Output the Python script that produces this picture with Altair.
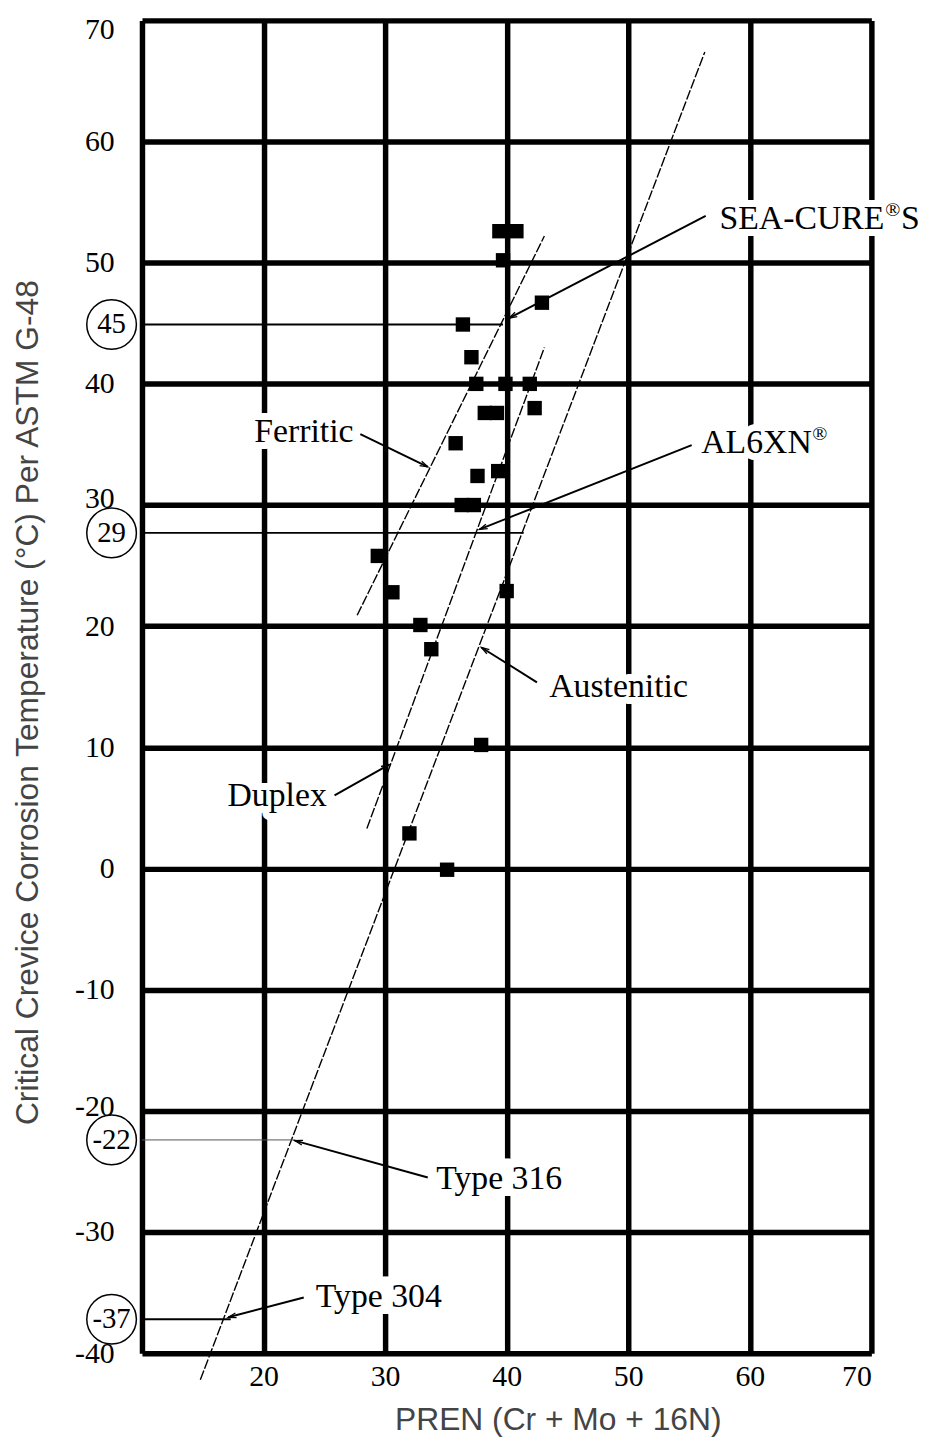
import math
import altair as alt
import pandas as pd

# ---- measured data points (PREN, CCCT) ----
pren = [39.4, 40.8, 39.7, 42.9, 36.4, 37.1, 37.5, 39.9, 41.9, 38.2, 39.2, 42.3,
        35.8, 37.6, 39.3, 36.3, 37.3, 29.4, 30.6, 40.0, 32.9, 33.8, 37.9, 32.0, 35.1]
ccct = [52.6, 52.6, 50.2, 46.7, 44.9, 42.2, 40.0, 40.0, 40.0, 37.6, 37.6, 38.0,
        35.1, 32.4, 32.8, 30.0, 30.0, 25.8, 22.8, 22.9, 20.1, 18.1, 10.2, 2.9, -0.1]

# ---- trend lines (end points) ----
line_name = ["Ferritic", "Ferritic", "Duplex", "Duplex", "Austenitic", "Austenitic"]
line_x = [27.7, 43.1, 28.5, 43.1, 14.8, 56.3]
line_y = [20.9, 52.2, 3.3, 43.0, -42.2, 67.4]

# ---- reference levels (circled values) ----
ref_label = ["45", "29", "-22", "-37"]
ref_y = [44.9, 27.7, -22.4, -37.2]
ref_x_start = [10, 10, 10, 10]
ref_x_end = [39.7, 41.4, 22.6, 17.3]
ref_width = [1.8, 1.8, 1.0, 1.8]
ref_color = ["black", "black", "#555555", "black"]
circle_x = [7.5, 7.5, 7.5, 7.5]

# ---- annotations and leader lines ----
ann_text = ["Ferritic", "Duplex", "Austenitic", "SEA-CURE", "AL6XN", "Type 316", "Type 304"]
ann_x = [27.4, 25.2, 43.5, 57.5, 56.0, 34.2, 24.3]
ann_y = [36.0, 6.0, 15.0, 53.6, 35.1, -25.6, -35.4]
ann_align = ["right", "right", "left", "left", "left", "left", "left"]
lead_x1 = [27.96, 25.84, 42.49, 56.37, 55.22, 33.51, 23.31]
lead_y1 = [35.85, 6.04, 15.37, 53.87, 34.95, -25.5, -35.4]
lead_x2 = [33.51, 30.33, 37.92, 40.2, 37.76, 22.57, 17.1]
lead_y2 = [33.15, 8.57, 18.24, 45.43, 27.99, -22.46, -37.04]

# ---- axis ticks ----
x_ticks = [10, 20, 30, 40, 50, 60, 70]
y_ticks = [-40, -30, -20, -10, 0, 10, 20, 30, 40, 50, 60, 70]

SERIF = "Liberation Serif"
SANS = "Liberation Sans"
TITLE_COLOR = "#444444"
FS = 34
W, H = 735, 1343
X_DOM, Y_DOM = [10, 70], [-40, 70]

xs = alt.Scale(domain=X_DOM, nice=False, zero=False)
ys = alt.Scale(domain=Y_DOM, nice=False, zero=False)

pts = pd.DataFrame({"x": pren, "y": ccct})
lines = pd.DataFrame({"x": line_x, "y": line_y, "name": line_name})
refs = pd.DataFrame({"x": ref_x_start, "x2": ref_x_end, "y": ref_y, "label": ref_label,
                     "cx": circle_x, "w": ref_width, "c": ref_color})
anns = pd.DataFrame({"x": ann_x, "y": ann_y, "text": ann_text, "align": ann_align})
leads = pd.DataFrame({"x": lead_x1, "y": lead_y1, "x2": lead_x2, "y2": lead_y2})

# arrowhead orientation in screen space (style only)
kx = W / (X_DOM[1] - X_DOM[0])
ky = H / (Y_DOM[1] - Y_DOM[0])
leads["ang"] = [
    math.degrees(math.atan2((b - a) * kx, (d - c) * ky)) % 360
    for a, b, c, d in zip(lead_x1, lead_x2, lead_y1, lead_y2)
]

x_axis = alt.Axis(
    values=x_ticks, title="PREN (Cr + Mo + 16N)",
    labelExpr="datum.value == 10 ? '' : '' + datum.value",
    grid=True, gridColor="black", gridWidth=5.5, gridOpacity=1,
    domain=False, ticks=False, labelPadding=9,
    labelFont=SERIF, labelFontSize=30, labelColor="black",
    titleFont=SANS, titleFontSize=32, titleFontWeight="normal", titleColor=TITLE_COLOR,
    titleX=419, titleY=67, titleAnchor="start", titleAlign="center", titleBaseline="middle",
)
y_axis = alt.Axis(
    values=y_ticks, title="Critical Crevice Corrosion Temperature (°C) Per ASTM G-48",
    labelExpr="'' + datum.value",
    grid=True, gridColor="black", gridWidth=5.5, gridOpacity=1,
    domain=False, ticks=False, labelPadding=28,
    labelFont=SERIF, labelFontSize=30, labelColor="black", labelBaseline="middle",
    labelOffset={"condition": [{"test": "datum.value == 70", "value": 9},
                               {"test": "datum.value == 30", "value": -7},
                               {"test": "datum.value == -20", "value": -4}],
                 "value": 0},
    titleFont=SANS, titleFontSize=32, titleFontWeight="normal", titleColor=TITLE_COLOR,
    titleX=-115, titleY=687, titleAngle=270, titleAlign="center", titleBaseline="middle",
)

points = alt.Chart(pts).mark_square(size=210, color="black", opacity=1).encode(
    x=alt.X("x:Q", scale=xs, axis=x_axis),
    y=alt.Y("y:Q", scale=ys, axis=y_axis),
)

trend = alt.Chart(lines).mark_line(color="black", strokeWidth=1.4, strokeDash=[10, 2]).encode(
    x=alt.X("x:Q", scale=xs), y=alt.Y("y:Q", scale=ys), detail="name:N"
)

ref_rules = alt.Chart(refs).mark_rule().encode(
    x=alt.X("x:Q", scale=xs), x2="x2:Q", y=alt.Y("y:Q", scale=ys),
    strokeWidth=alt.StrokeWidth("w:Q", scale=None),
    color=alt.Color("c:N", scale=None),
)

circles = alt.Chart(refs).mark_point(shape="circle", size=2500, filled=False,
                                     color="black", strokeWidth=1.5, opacity=1).encode(
    x=alt.X("cx:Q", scale=xs), y=alt.Y("y:Q", scale=ys)
)
circle_text = alt.Chart(refs).mark_text(font=SERIF, fontSize=29, color="black",
                                        baseline="middle", align="center").encode(
    x=alt.X("cx:Q", scale=xs), y=alt.Y("y:Q", scale=ys), text="label:N"
)

leaders = alt.Chart(leads).mark_rule(color="black", strokeWidth=2).encode(
    x=alt.X("x:Q", scale=xs), y=alt.Y("y:Q", scale=ys), x2="x2:Q", y2="y2:Q"
)
arrows = alt.Chart(leads).mark_point(
    shape="M-0.6,2L0,0L0.6,2", size=64, filled=False, color="black",
    strokeWidth=1.3, opacity=1,
).encode(
    x=alt.X("x2:Q", scale=xs), y=alt.Y("y2:Q", scale=ys),
    angle=alt.Angle("ang:Q", scale=None),
)


def text_pair(data, filt, size, align="left", dx=0, dy=0, text=None, halo=14):
    base = alt.Chart(data).transform_filter(filt)
    enc = dict(x=alt.X("x:Q", scale=xs), y=alt.Y("y:Q", scale=ys))
    kw = dict(font=SERIF, fontSize=size, align=align, baseline="middle", dx=dx, dy=dy)
    if text is None:
        # halo text: spaces replaced by a glyph of similar width so gaps are covered
        h = base.transform_calculate(ht="replace(datum.text, / /g, 'l')").mark_text(
            color="white", stroke="white", strokeWidth=halo, strokeJoin="round", **kw
        ).encode(text="ht:N", **enc)
        t = base.mark_text(color="black", **kw).encode(text="text:N", **enc)
    else:
        h = base.mark_text(color="white", stroke="white", strokeWidth=halo,
                           strokeJoin="round", text=text, **kw).encode(**enc)
        t = base.mark_text(color="black", text=text, **kw).encode(**enc)
    return h, t


layers_halo, layers_text = [], []
for h, t in [
    text_pair(anns, alt.datum.align == "right", FS, align="right"),
    text_pair(anns, alt.datum.align == "left", FS, align="left"),
    text_pair(anns, alt.datum.text == "SEA-CURE", 20, dx=167, dy=-9, text="®", halo=10),
    text_pair(anns, alt.datum.text == "SEA-CURE", FS, dx=183, text="S"),
    text_pair(anns, alt.datum.text == "AL6XN", 20, dx=112, dy=-9, text="®", halo=10),
]:
    layers_halo.append(h)
    layers_text.append(t)

chart = alt.layer(
    points, trend, ref_rules, leaders, arrows, *layers_halo, *layers_text,
    circles, circle_text
).properties(
    width=W, height=H,
    autosize="none",
    padding={"left": 135, "top": 7, "right": 50, "bottom": 80},
).configure_view(stroke=None)

chart.save("out.html", embed_options={"renderer": "svg", "actions": False})
